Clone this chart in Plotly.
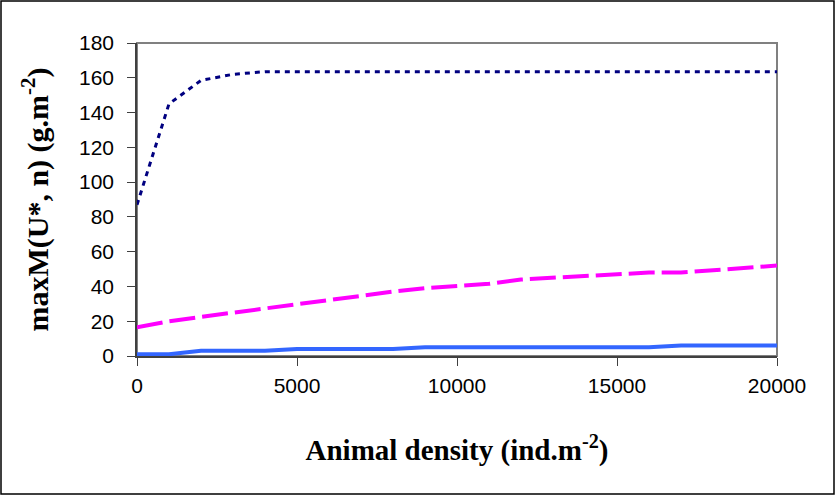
import plotly.graph_objects as go

density = [0, 1000, 2000, 3000, 4000, 5000, 6000, 7000, 8000, 9000, 10000,
           11000, 12000, 13000, 14000, 15000, 16000, 17000, 18000, 19000, 20000]
dotted_navy = [87, 145, 158.5, 162, 163.5, 163.5, 163.5, 163.5, 163.5, 163.5, 163.5,
               163.5, 163.5, 163.5, 163.5, 163.5, 163.5, 163.5, 163.5, 163.5, 163.5]
dashed_magenta = [16.5, 20, 22.5, 25, 27.5, 30, 32.5, 34.5, 37, 39, 40,
                  41.5, 44, 45, 46, 47, 48, 48, 49.5, 51, 52]
solid_blue = [1, 1, 3, 3, 3, 4, 4, 4, 4, 5, 5,
              5, 5, 5, 5, 5, 5, 6, 6, 6, 6]

x_ticks = [0, 5000, 10000, 15000, 20000]
y_ticks = [0, 20, 40, 60, 80, 100, 120, 140, 160, 180]

L, R, T, B = 137, 58, 43, 139
PW, PH = 835 - L - R, 495 - T - B

fig = go.Figure()
fig.add_trace(go.Scatter(x=density, y=solid_blue, mode="lines",
                         line=dict(color="#3366FF", width=4), showlegend=False))
fig.add_trace(go.Scatter(x=density, y=dashed_magenta, mode="lines",
                         line=dict(color="#FF00FF", width=4, dash="26px,7px"), showlegend=False))
fig.add_trace(go.Scatter(x=density, y=dotted_navy, mode="lines",
                         line=dict(color="#000080", width=3, dash="5px,5px"), showlegend=False))

fig.update_layout(
    width=835, height=495,
    margin=dict(l=L, r=R, t=T, b=B),
    paper_bgcolor="white", plot_bgcolor="white",
    font=dict(family="Liberation Sans, Arial", size=21, color="black"),
    shapes=[
        dict(type="rect", xref="paper", yref="paper", x0=0, x1=1, y0=0, y1=1,
             line=dict(color="#808080", width=2), layer="below"),
        dict(type="rect", xref="paper", yref="paper", x0=-(L - 1) / PW, x1=1 + (R - 1) / PW,
             y0=-(B - 1) / PH, y1=1 + (T - 1) / PH,
             line=dict(color="black", width=1.5), layer="below"),
    ],
)
fig.update_xaxes(
    range=[0, 20000], tickvals=x_ticks, ticktext=[str(v) for v in x_ticks],
    showgrid=False, zeroline=False, showline=True, linecolor="#404040", linewidth=1.5,
    ticks="outside", ticklen=8, tickcolor="#404040", ticklabelstandoff=2,
    title=dict(text="<b>Animal density (ind.m<sup>-2</sup>)</b>",
               font=dict(family="Liberation Serif, Times New Roman", size=29), standoff=44),
)
fig.update_yaxes(
    range=[0, 180], tickvals=y_ticks,
    showgrid=False, zeroline=False, showline=True, linecolor="#404040", linewidth=1.5,
    ticks="outside", ticklen=8, tickcolor="#404040", ticklabelstandoff=9,
    title=dict(text="<b>maxM(U*, n) (g.m<sup>-2</sup>)</b>",
               font=dict(family="Liberation Serif, Times New Roman", size=30), standoff=22),
)

fig.write_html("out.html")
